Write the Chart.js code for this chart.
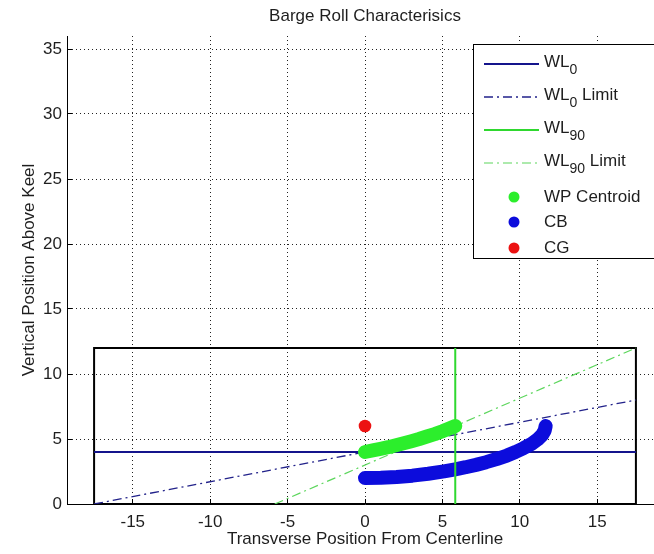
<!DOCTYPE html>
<html>
<head>
<meta charset="utf-8">
<script src="https://cdn.jsdelivr.net/npm/chart.js@4.4.1/dist/chart.umd.min.js"></script>
<style>
  html, body { margin: 0; padding: 0; overflow: hidden; background: #fff; }
  canvas { display: block; }
</style>
</head>
<body>
<canvas id="chart" width="700" height="554" style="width:700px;height:554px"></canvas>
<script>
// ---- text ----
const chartTitle = 'Barge Roll Characterisics';
const xAxisTitle = 'Transverse Position From Centerline';
const yAxisTitle = 'Vertical Position Above Keel';

// ---- axis limits and tick step ----
const xRange = [-19.25, 19.25];
const yRange = [0, 36];
const tickStep = 5;

// ---- barge hull outline (half-beam 17.5, depth 12) ----
const hullX = [-17.5, -17.5, 17.5, 17.5, -17.5];
const hullY = [0, 12, 12, 0, 0];

// ---- waterlines ----
const wl0X = [-17.5, 17.5];
const wl0Y = [4, 4];
const wl0LimitX = [-17.5, 17.5];
const wl0LimitY = [0, 8];
const wl90X = [5.83, 5.83];
const wl90Y = [0, 12];
const wl90LimitX = [-5.83, 17.5];
const wl90LimitY = [0, 12];

// ---- waterplane centroid track ----
const wpX = [0, 0.5, 1, 1.5, 2, 2.5, 3, 3.5, 4, 4.5, 5, 5.4, 5.83];
const wpY = [4, 4.12, 4.24, 4.37, 4.52, 4.67, 4.83, 5.0, 5.19, 5.38, 5.6, 5.79, 6.0];

// ---- centre of buoyancy track ----
const cbX = [0, 1.02, 2.04, 3.06, 4.08, 5.10, 5.83, 6.5, 7.17, 7.83, 8.5, 9.17, 9.72,
             10.24, 10.76, 11.15, 11.44, 11.61, 11.67];
const cbY = [2, 2.02, 2.08, 2.18, 2.33, 2.51, 2.67, 2.83, 3.01, 3.22, 3.46, 3.73, 4.0,
             4.29, 4.63, 4.97, 5.31, 5.66, 6.0];

// ---- centre of gravity ----
const cgX = [0];
const cgY = [6];

// ---- legend label parts (main text, subscript, trailing text) ----
const legendNames = ['WL', 'WL', 'WL', 'WL', 'WP Centroid', 'CB', 'CG'];
const legendSubs  = ['0', '0', '90', '90', '', '', ''];
const legendTails = ['', ' Limit', '', ' Limit', '', '', ''];

const FONT = '"Liberation Sans", Arial, Helvetica, sans-serif';
const TEXT = '#1e1e1e';
const DASH_DOT = [9, 4, 2, 4];

const pts = (xs, ys) => xs.map((x, i) => ({ x: x, y: ys[i] }));

Chart.defaults.font.family = FONT;
Chart.defaults.font.size = 17;
Chart.defaults.color = TEXT;

// Small inward tick marks on the left and bottom axes
const innerTicks = {
  id: 'innerTicks',
  beforeDatasetsDraw(chart, args, opts) {
    const { ctx, chartArea, scales } = chart;
    const align = p => Math.round(p - 0.5) + 0.5;
    ctx.save();
    ctx.strokeStyle = '#000';
    ctx.lineWidth = 1;
    ctx.beginPath();
    scales.x.ticks.forEach(t => {
      const px = align(scales.x.getPixelForValue(t.value));
      ctx.moveTo(px, chartArea.bottom);
      ctx.lineTo(px, chartArea.bottom - opts.length);
    });
    scales.y.ticks.forEach(t => {
      const py = align(scales.y.getPixelForValue(t.value));
      ctx.moveTo(chartArea.left, py);
      ctx.lineTo(chartArea.left + opts.length, py);
    });
    ctx.stroke();
    ctx.restore();
  }
};

// Boxed legend with subscripted labels
const subscriptLegend = {
  id: 'subscriptLegend',
  afterDraw(chart, args, opts) {
    const ctx = chart.ctx;
    ctx.save();
    ctx.fillStyle = '#fff';
    ctx.fillRect(opts.left, opts.top, opts.width, opts.height);
    ctx.strokeStyle = '#000';
    ctx.lineWidth = 1;
    ctx.strokeRect(opts.left + 0.5, opts.top + 0.5, opts.width, opts.height);

    opts.entries.forEach((dsIndex, i) => {
      const ds = chart.data.datasets[dsIndex];
      const y = opts.rows[i];
      if (ds.legendMark === 'line') {
        ctx.beginPath();
        ctx.setLineDash(ds.borderDash || []);
        ctx.lineWidth = ds.borderWidth;
        ctx.strokeStyle = ds.borderColor;
        ctx.moveTo(opts.lineStart, y);
        ctx.lineTo(opts.lineEnd, y);
        ctx.stroke();
        ctx.setLineDash([]);
      } else {
        ctx.beginPath();
        ctx.arc(opts.markerX, y, opts.markerRadius, 0, Math.PI * 2);
        ctx.fillStyle = ds.legendColor;
        ctx.fill();
      }

      const sub = legendSubs[i];
      const tail = legendTails[i];
      const yMain = sub ? y - 2 : y;
      let x = opts.textX;
      ctx.fillStyle = TEXT;
      ctx.textBaseline = 'middle';
      ctx.textAlign = 'left';
      ctx.font = '17px ' + FONT;
      ctx.fillText(legendNames[i], x, yMain);
      x += ctx.measureText(legendNames[i]).width;
      if (sub) {
        ctx.font = '14px ' + FONT;
        ctx.fillText(sub, x, yMain + 8);
        x += ctx.measureText(sub).width;
        ctx.font = '17px ' + FONT;
      }
      if (tail) ctx.fillText(tail, x, yMain);
    });
    ctx.restore();
  }
};

const datasets = [
  { label: 'Hull', data: pts(hullX, hullY), showLine: true, borderColor: '#000',
    borderWidth: 2, pointRadius: 0, order: 9 },
  { label: 'WL0', data: pts(wl0X, wl0Y), showLine: true, borderColor: '#14148c',
    borderWidth: 2, pointRadius: 0, order: 6, legendMark: 'line' },
  { label: 'WL0 Limit', data: pts(wl0LimitX, wl0LimitY), showLine: true, borderColor: '#22228a',
    borderWidth: 1.3, borderDash: DASH_DOT, pointRadius: 0, order: 8, legendMark: 'line' },
  { label: 'WL90', data: pts(wl90X, wl90Y), showLine: true, borderColor: '#2fd82f',
    borderWidth: 2, pointRadius: 0, order: 4, legendMark: 'line' },
  { label: 'WL90 Limit', data: pts(wl90LimitX, wl90LimitY), showLine: true, borderColor: '#5cd65c',
    borderWidth: 1.2, borderDash: DASH_DOT, pointRadius: 0, order: 7, legendMark: 'line' },
  { label: 'WP Centroid', data: pts(wpX, wpY), showLine: true, borderColor: '#2cee2c',
    borderWidth: 14, borderCapStyle: 'round', borderJoinStyle: 'round', pointRadius: 0,
    order: 3, legendMark: 'dot', legendColor: '#2cee2c' },
  { label: 'CB', data: pts(cbX, cbY), showLine: true, borderColor: '#0c0cdc',
    borderWidth: 14, borderCapStyle: 'round', borderJoinStyle: 'round', pointRadius: 0,
    order: 5, legendMark: 'dot', legendColor: '#0c0cdc' },
  { label: 'CG', data: pts(cgX, cgY), showLine: false, pointRadius: 6.3, pointBorderWidth: 0,
    pointBackgroundColor: '#ec1212', backgroundColor: '#ec1212', order: 2,
    legendMark: 'dot', legendColor: '#ec1212' }
];

const dotted = { display: true, color: '#000', width: 1, dash: [1, 3] };

new Chart(document.getElementById('chart'), {
  type: 'scatter',
  data: { datasets: datasets },
  options: {
    responsive: false,
    animation: false,
    events: [],
    layout: { padding: { top: 0, right: 37, bottom: 0, left: 0 } },
    scales: {
      x: {
        type: 'linear', position: 'bottom', min: xRange[0], max: xRange[1],
        ticks: { stepSize: tickStep, includeBounds: false, padding: 8, maxRotation: 0,
                 autoSkip: false, color: TEXT, font: { size: 17 } },
        grid: { color: '#222', lineWidth: 1, drawTicks: false },
        border: dotted,
        title: { display: true, text: xAxisTitle, color: TEXT, font: { size: 17 },
                 padding: { top: 0, bottom: 4 } },
        afterFit(scale) { scale.height = 50; }
      },
      y: {
        type: 'linear', position: 'left', min: yRange[0], max: yRange[1],
        ticks: { stepSize: tickStep, includeBounds: false, padding: 5, color: TEXT,
                 font: { size: 17 } },
        grid: { color: '#222', lineWidth: 1, drawTicks: false },
        border: dotted,
        title: { display: true, text: yAxisTitle, color: TEXT, font: { size: 17 },
                 padding: { top: 19, bottom: 0 } },
        afterFit(scale) { scale.width = 67; }
      }
    },
    plugins: {
      legend: { display: false },
      tooltip: { enabled: false },
      title: {
        display: true, text: chartTitle, fullSize: false, color: TEXT,
        font: { size: 17, weight: 'normal', lineHeight: 1.2 },
        padding: { top: 6, bottom: 9.6 }
      },
      innerTicks: { length: 5 },
      subscriptLegend: {
        left: 473, top: 44, width: 260, height: 214,
        entries: [1, 2, 3, 4, 5, 6, 7],
        rows: [64, 97, 130, 163, 197, 222, 248],
        lineStart: 484, lineEnd: 539, markerX: 514, markerRadius: 5.5, textX: 544
      }
    }
  },
  plugins: [innerTicks, subscriptLegend]
});
</script>
</body>
</html>
